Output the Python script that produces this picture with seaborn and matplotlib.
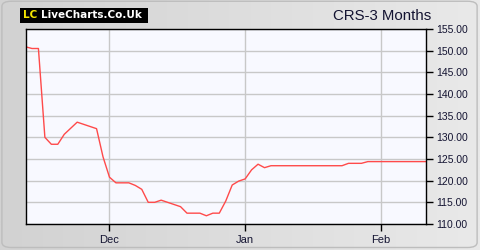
import numpy as np
import pandas as pd
import matplotlib
matplotlib.use("Agg")
import matplotlib.pyplot as plt
import seaborn as sns
from matplotlib.patches import FancyBboxPatch, Rectangle
from matplotlib.ticker import FormatStrFormatter

# ---- data ----
prices = [150.9, 150.5, 150.5, 130.0, 128.4, 128.4, 130.7, 132.1, 133.5, 133.0,
          132.5, 132.0, 125.5, 120.8, 119.5, 119.5, 119.5, 118.9, 118.0, 115.0,
          115.0, 115.5, 115.0, 114.5, 114.0, 112.5, 112.5, 112.5, 111.9, 112.5,
          112.5, 115.3, 119.0, 119.9, 120.4, 122.5, 123.8, 123.0, 123.45, 123.45,
          123.45, 123.45, 123.45, 123.45, 123.45, 123.45, 123.45, 123.45, 123.45, 123.45,
          124.0, 124.0, 124.0, 124.4, 124.4, 124.4, 124.4, 124.4, 124.4, 124.4,
          124.4, 124.4, 124.4]
month_labels = ["Dec", "Jan", "Feb"]
month_positions = [13, 34, 55]
y_ticks = [110, 115, 120, 125, 130, 135, 140, 145, 150, 155]
title = "CRS-3 Months"

df = pd.DataFrame({"day": np.arange(len(prices)), "price": prices})

sns.set_theme(style="white")
plt.rcParams["font.family"] = ["Liberation Sans", "DejaVu Sans"]

fig = plt.figure(figsize=(4.8, 2.5), dpi=100)
fig.patch.set_facecolor("white")

# background gradient panel
bg = fig.add_axes([0, 0, 1, 1], zorder=-10)
grad = np.linspace(0, 1, 256).reshape(1, -1)
bg.imshow(grad, aspect="auto", cmap=matplotlib.colors.LinearSegmentedColormap.from_list(
    "g", ["#d2d2d2", "#e9e9e9"]), extent=[0, 1, 0, 1], transform=bg.transAxes)
bg.set_axis_off()
border = FancyBboxPatch((0.004, 0.01), 0.99, 0.985, boxstyle="round,pad=0,rounding_size=0.02",
                        transform=fig.transFigure, facecolor="none", edgecolor="#bdbdbd",
                        linewidth=1.0, zorder=5)
fig.patches.append(border)

ax = fig.add_axes([25.5 / 480, 26 / 250, 400.5 / 480, 195 / 250])
ax.set_facecolor("#f8f9ff")
sns.lineplot(data=df, x="day", y="price", ax=ax, color="#ff4a4a", linewidth=1.0)

ax.set_xlim(0, len(prices) - 1)
ax.set_ylim(110, 155)
ax.set_yticks(y_ticks)
ax.yaxis.set_major_formatter(FormatStrFormatter("%.2f"))
ax.yaxis.tick_right()
ax.set_xticks(month_positions)
ax.set_xticklabels(month_labels)
ax.set_xlabel("")
ax.set_ylabel("")
ax.grid(True, color="#c8c8c8", linewidth=1.0)
ax.set_axisbelow(True)
for s in ax.spines.values():
    s.set_color("black")
    s.set_linewidth(1.0)
    s.set_visible(True)
ax.tick_params(axis="both", which="major", direction="out", length=5, width=1,
               color="black", labelsize=7.5, labelcolor="#141432", pad=2, bottom=True, right=True)
ax.tick_params(axis="x", labelsize=8, pad=3)

fig.text(382 / 480, 1 - 16 / 250, title, fontsize=10.8, color="#141432", ha="center", va="center")

# logo
logo_bg = Rectangle((20 / 480, 1 - 23 / 250), 128 / 480, 15 / 250,
                    transform=fig.transFigure, facecolor="black", edgecolor="none", zorder=3)
fig.patches.append(logo_bg)
fig.text(23 / 480, 1 - 15.5 / 250, "LC", fontsize=7.5, fontweight="bold", color="#f5e600",
         family="DejaVu Sans", ha="left", va="center", zorder=4)
fig.text(41 / 480, 1 - 15.5 / 250, "LiveCharts.Co.Uk", fontsize=7.5, color="white",
         fontweight="bold", family="DejaVu Sans", ha="left", va="center", zorder=4)

fig.savefig("out.png", dpi=100)
